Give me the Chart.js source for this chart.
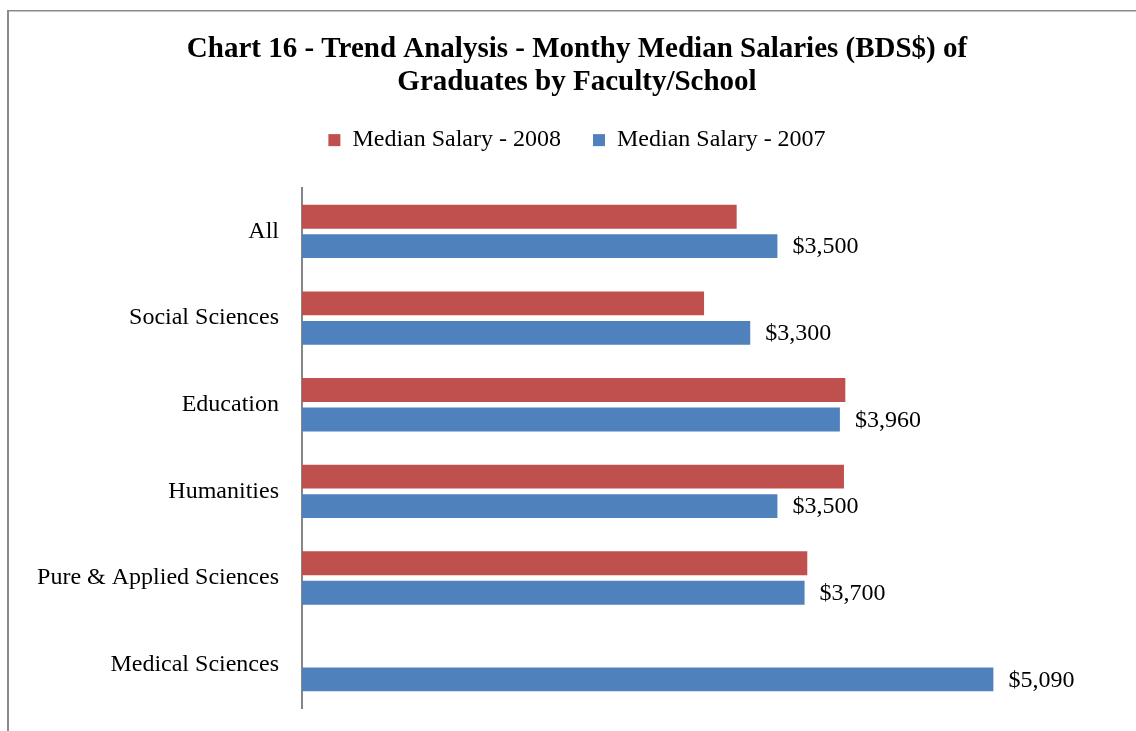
<!DOCTYPE html>
<html>
<head>
<meta charset="utf-8">
<title>Chart 16</title>
<script src="https://cdn.jsdelivr.net/npm/chart.js@4.4.1/dist/chart.umd.min.js"></script>
<style>
    html, body { margin: 0; padding: 0; background: #fff; }
    #wrap { width: 1136px; height: 731px; }
</style>
</head>
<body>
<div id="wrap"><canvas id="myChart" width="1136" height="731"></canvas></div>
<script>
const categories = ['All', 'Social Sciences', 'Education', 'Humanities', 'Pure & Applied Sciences', 'Medical Sciences'];
const salary2008 = [3200, 2960, 4000, 3990, 3720, null];
const salary2007 = [3500, 3300, 3960, 3500, 3700, 5090];
const seriesLabels = ['Median Salary - 2008', 'Median Salary - 2007'];
const titleLines = ['Chart 16 - Trend Analysis - Monthy Median Salaries (BDS$) of', 'Graduates by Faculty/School'];

const serif = '"Liberation Serif", "Times New Roman", Times, serif';

// 바깥 테두리
const framePlugin = {
    id: 'frame',
    beforeDraw(chart) {
        const ctx = chart.ctx;
        ctx.save();
        ctx.fillStyle = '#8a8a8a';
        ctx.fillRect(7, 10, 2, chart.height - 10);
        ctx.fillRect(7, 10, chart.width - 7, 1.5);
        ctx.restore();
    }
};

// 2007 막대 끝에 값 표시
const valueLabels = {
    id: 'valueLabels',
    afterDatasetsDraw(chart) {
        const ctx = chart.ctx;
        const meta = chart.getDatasetMeta(1);
        ctx.save();
        ctx.font = '24px ' + serif;
        ctx.fillStyle = '#000';
        ctx.textAlign = 'left';
        ctx.textBaseline = 'middle';
        meta.data.forEach((bar, i) => {
            const v = salary2007[i];
            if (v == null) return;
            ctx.fillText('$' + v.toLocaleString('en-US'), bar.x + 15, bar.y + 1);
        });
        ctx.restore();
    }
};

// 범례 아래 여백
const legendGap = {
    id: 'legendGap',
    beforeInit(chart) {
        const fit = chart.legend.fit;
        chart.legend.fit = function () {
            fit.bind(chart.legend)();
            this.height += 26;
        };
    }
};

const ctx = document.getElementById('myChart').getContext('2d');
const myChart = new Chart(ctx, {
    type: 'bar',
    data: {
        labels: categories,
        datasets: [{
            label: seriesLabels[0],
            data: salary2008,
            backgroundColor: '#C0504D',
            borderWidth: 0
        },
        {
            label: seriesLabels[1],
            data: salary2007,
            backgroundColor: '#4F81BD',
            borderWidth: 0
        }]
    },
    options: {
        indexAxis: 'y',
        responsive: false,
        animation: false,
        barPercentage: 0.81,
        categoryPercentage: 0.68,
        layout: {
            padding: { top: 10, left: 18, right: 0, bottom: 23 }
        },
        scales: {
            x: {
                display: false,
                min: 0,
                max: 6140
            },
            y: {
                grid: { display: false, drawTicks: false },
                border: { display: true, color: '#868686', width: 2 },
                ticks: {
                    color: '#000',
                    padding: 23,
                    font: { family: serif, size: 24 }
                },
                afterFit(scale) {
                    scale.width = 284;
                    scale.paddingTop = 0;
                    scale.paddingBottom = 0;
                }
            }
        },
        plugins: {
            title: {
                display: true,
                text: titleLines,
                color: '#000',
                font: { family: serif, size: 29, weight: 'bold', lineHeight: 1.14 },
                padding: { top: 23, bottom: -3 }
            },
            legend: {
                position: 'top',
                labels: {
                    color: '#000',
                    boxWidth: 12,
                    boxHeight: 12,
                    padding: 32,
                    font: { family: serif, size: 24 }
                }
            },
            tooltip: { enabled: false }
        }
    },
    plugins: [framePlugin, valueLabels, legendGap]
});
</script>
</body>
</html>
